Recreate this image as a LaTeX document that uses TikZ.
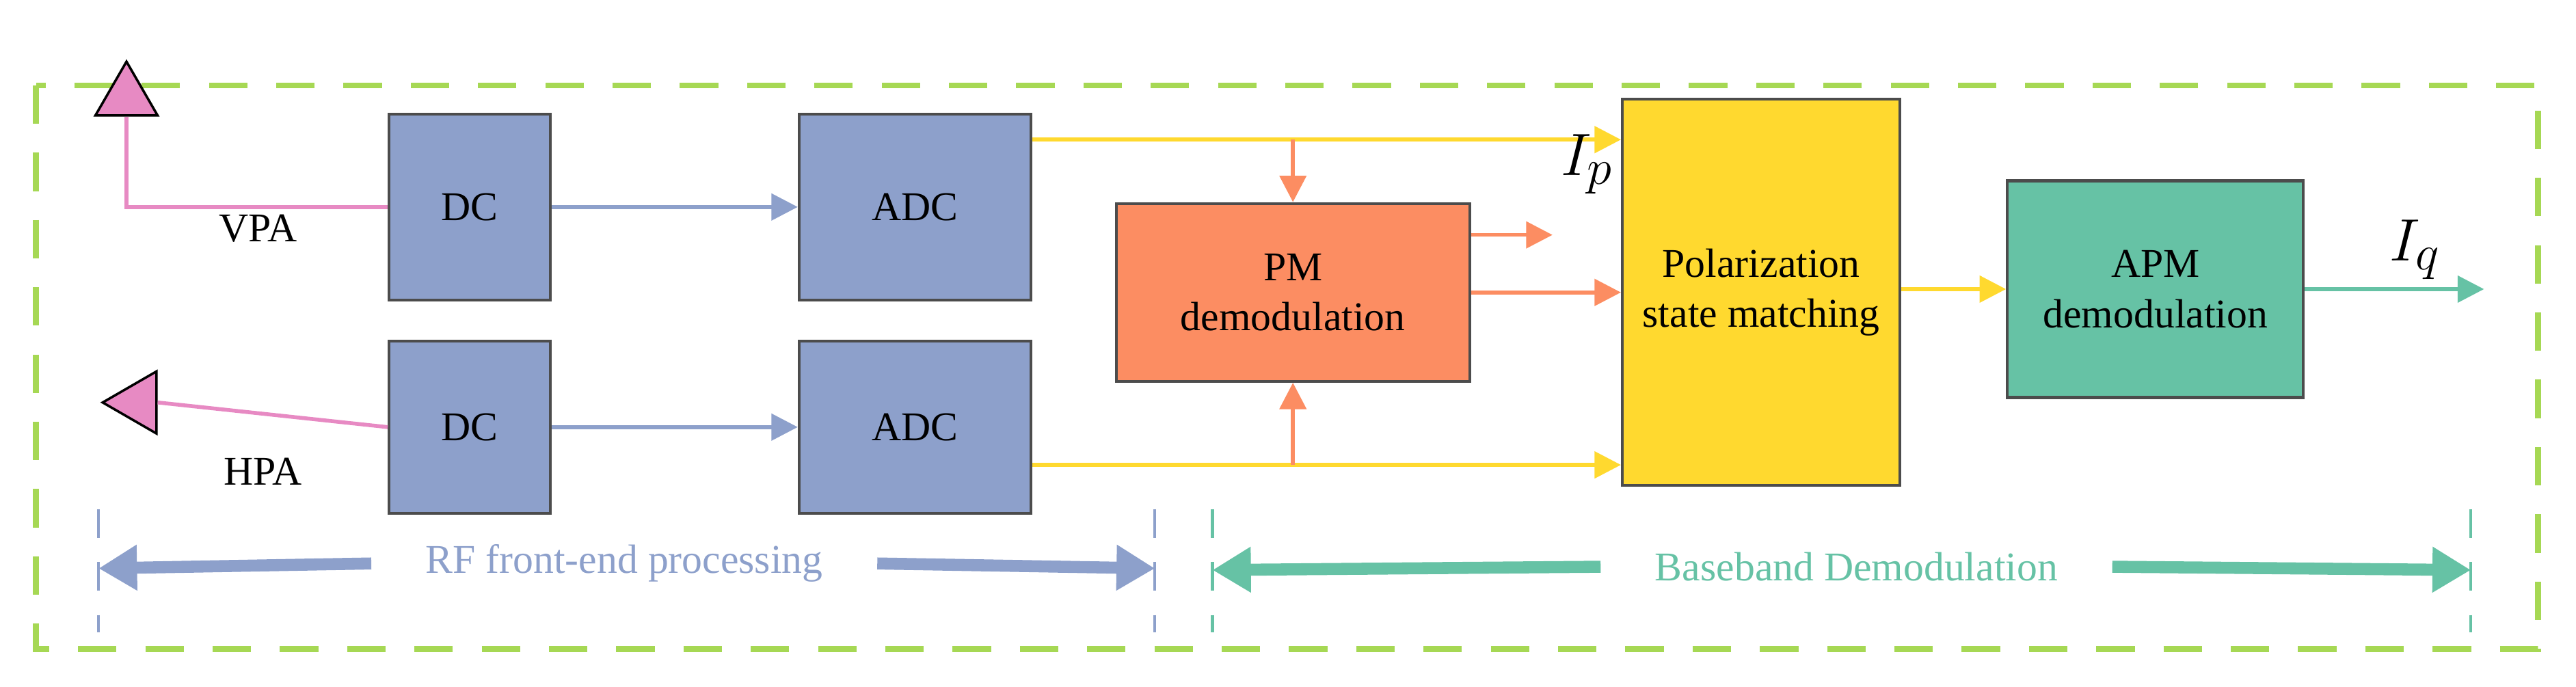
\documentclass[tikz,border=0pt]{standalone}
\usepackage{fontspec}
\setmainfont{Liberation Serif}
\usetikzlibrary{arrows.meta,positioning,shapes.geometric}
\definecolor{cblue}{HTML}{8DA0CB}
\definecolor{corange}{HTML}{FC8D62}
\definecolor{cyellow}{HTML}{FFD92F}
\definecolor{cgreen}{HTML}{66C2A5}
\definecolor{cpink}{HTML}{E78AC3}
\definecolor{clime}{HTML}{A6D854}
\tikzset{
    block/.style={draw=black!70, line width=1.2pt, inner sep=0pt, align=center, font=\fontsize{17}{21}\selectfont},
    sig/.style={line width=1.6pt, -{Triangle[width=11pt,length=11pt]}},
    span/.style={line width=5pt, -{Triangle[width=18pt,length=16pt]}},
    divider/.style={line width=1.2pt, dash pattern=on 12pt off 10pt},
    lbl/.style={font=\fontsize{17}{21}\selectfont},
    ant/.style={draw=black, line width=1pt, fill=cpink, regular polygon, regular polygon sides=3, minimum size=1.05cm, inner sep=0pt}
}
\begin{document}
\begin{tikzpicture}[x=0.02403cm, y=-0.02403cm]
    \useasboundingbox (0,0) rectangle (1568,418);
    \draw[clime, line width=2.5pt, dash pattern=on 16pt off 12pt] (22,52) rectangle (1545,395);
    % blocks
    \node[block, fill=cblue, minimum width=2.36cm, minimum height=2.72cm] (dc1) at (286,126) {DC};
    \node[block, fill=cblue, minimum width=3.39cm, minimum height=2.72cm] (adc1) at (557,126) {ADC};
    \node[block, fill=cblue, minimum width=2.36cm, minimum height=2.52cm] (dc2) at (286,260) {DC};
    \node[block, fill=cblue, minimum width=3.39cm, minimum height=2.52cm] (adc2) at (557,260) {ADC};
    \node[block, fill=corange, minimum width=5.17cm, minimum height=2.6cm] (pm) at (787,178) {PM\\demodulation};
    \node[block, fill=cyellow, minimum width=4.06cm, minimum height=5.65cm] (pol) at (1072,178) {Polarization\\state matching};
    \node[block, fill=cgreen, minimum width=4.33cm, minimum height=3.17cm] (apm) at (1312,176) {APM\\demodulation};
    % antennas
    \node[ant, anchor=south] (vant) at (77,71) {};
    \node[ant, shape border rotate=90, anchor=east] (hant) at (96,245) {};
    \node[lbl] (vpa) at (157,139) {VPA};
    \node[lbl] (hpa) at (160,287) {HPA};
    \draw[cpink, line width=1.6pt] (vant.south) |- (dc1.west);
    \draw[cpink, line width=1.6pt] (hant.east) -- (dc2.west);
    % links
    \draw[sig, cblue] (dc1) -- (adc1);
    \draw[sig, cblue] (dc2) -- (adc2);
    \coordinate (t1) at (adc1.east |- 0,85);
    \coordinate (t2) at (adc2.east |- 0,283);
    \draw[sig, cyellow] (t1) -- (t1 -| pol.west);
    \draw[sig, cyellow] (t2) -- (t2 -| pol.west);
    \draw[sig, corange] (t1 -| pm) -- (pm.north);
    \draw[sig, corange] (t2 -| pm) -- (pm.south);
    \coordinate (p1) at (pm.east |- 0,143);
    \coordinate (e1) at (945,143);
    \draw[sig, corange] (p1) -- (e1);
    \draw[sig, corange] (pm.east) -- (pm.east -| pol.west);
    \draw[sig, cyellow] (pol.east |- apm.west) -- (apm.west);
    \coordinate (out) at (1512,176);
    \draw[sig, cgreen] (apm.east) -- (out);
    \node[font=\fontsize{30}{30}\selectfont] (ip) at (966,100) {$I_p$};
    \node[font=\fontsize{30}{30}\selectfont] (iq) at (1470,152) {$I_q$};
    % ranges
    \draw[divider, cblue] (60,310) -- (60,385);
    \draw[divider, cblue] (703,310) -- (703,385);
    \draw[divider, cgreen] (738,310) -- (738,385);
    \draw[divider, cgreen] (1504,310) -- (1504,385);
    \node[lbl, text=cblue] (rf) at (380,343) {RF front-end processing};
    \node[lbl, text=cgreen] (bb) at (1130,345) {Baseband Demodulation};
    \coordinate (rfl) at (60,346);
    \coordinate (rfr) at (703,346);
    \coordinate (bbl) at (738,347);
    \coordinate (bbr) at (1504,347);
    \draw[span, cblue] (rf.west) ++(-28,0) -- (rfl);
    \draw[span, cblue] (rf.east) ++(28,0) -- (rfr);
    \draw[span, cgreen] (bb.west) ++(-28,0) -- (bbl);
    \draw[span, cgreen] (bb.east) ++(28,0) -- (bbr);
\end{tikzpicture}
\end{document}
